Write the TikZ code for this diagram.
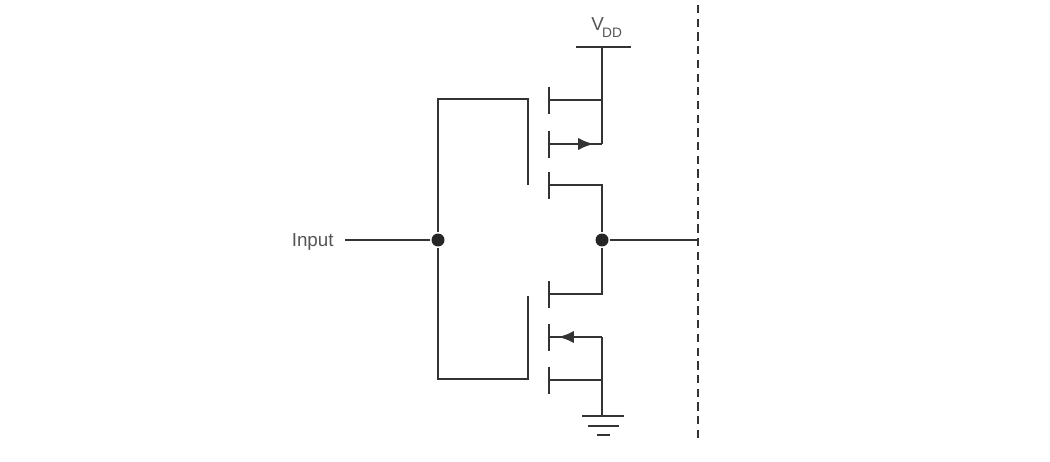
\documentclass[tikz,border=0pt]{standalone}
\usepackage{fontspec}
\setmainfont{Liberation Sans}
\usetikzlibrary{arrows.meta,positioning}
\definecolor{wirecol}{HTML}{333333}
\definecolor{textcol}{HTML}{555555}

\begin{document}
\begin{tikzpicture}[x=0.02cm,y=-0.02cm,>={Latex[length=9pt,width=7pt]},line width=1.6pt,
	                    wire/.style={draw=wirecol,line join=miter},
	                    thin wire/.style={draw=wirecol,line width=1.3pt},
	                    dot/.style={circle,fill=black!85,inner sep=0pt,minimum size=0.26cm},
	                    label text/.style={text=textcol,font=\fontsize{10.7pt}{12pt}\selectfont,inner sep=0pt}]
		  \useasboundingbox (0,0) rectangle (1050,462);

		  % junctions and rails
		  \node[dot] (in)  at (438,240) {};
		  \node[dot] (out) at (602,240) {};
		  \coordinate (vddL) at (576,47);
		  \coordinate (vddM) at (602,47);
		  \coordinate (vddR) at (631,47);
		  \coordinate (gndT) at (602,416);
		  \node[label text,anchor=east] (input) at (335,242) {Input};
		  \coordinate (inputEnd) at (345,240);
		  \node[label text,anchor=west] (vdd) at (590,28) {V\kern-1pt\raisebox{-0.7ex}{\fontsize{7.8pt}{9pt}\selectfont DD}};

		  % plates, top to bottom
		  \foreach \name/\ypos in {pa/100,pb/144,pc/185,nc/294,nb/337,na/380}{
		    \coordinate (\name T) at (549,\ypos-13);
		    \coordinate (\name B) at (549,\ypos+14);
		    \coordinate (\name) at (549,\ypos);
		    \coordinate (\name R) at (602,\ypos);
		    \draw[wire] (\name T) -- (\name B);
		  }

		  % gate wires
		  \coordinate (gtA) at (438,99);
		  \coordinate (gtB) at (528,99);
		  \coordinate (gtC) at (528,185);
		  \coordinate (gbA) at (438,379);
		  \coordinate (gbB) at (528,379);
		  \coordinate (gbC) at (528,296);
		  \draw[wire] (in) -- (gtA) -- (gtB) -- (gtC);
		  \draw[wire] (in) -- (gbA) -- (gbB) -- (gbC);
		  \draw[wire] (inputEnd) -- (in);

		  % pull-up side
		  \draw[wire] (vddL) -- (vddR);
		  \draw[wire] (vddM) -- (pbR);
		  \draw[wire] (pa) -- (paR);
		  \draw[wire] (pb) -- (pbR);
		  \draw[wire] (pc) -- (pcR) -- (out);
		  \coordinate (pbTip) at (594,144);
		  \draw[wire,->] (pb) -- (pbTip);

		  % pull-down side
		  \draw[wire] (out) -- (ncR) -- (nc);
		  \draw[wire] (nbR) -- (nb);
		  \draw[wire] (na) -- (naR);
		  \draw[wire] (nbR) -- (gndT);
		  \coordinate (nbTip) at (558,337);
		  \draw[wire,->] (nbR) -- (nbTip);

		  % ground
		  \coordinate (gaL) at (582,416);
		  \coordinate (gaR) at (624,416);
		  \coordinate (gbL) at (588,426);
		  \coordinate (gbR) at (619,426);
		  \coordinate (gcL) at (597,435);
		  \coordinate (gcR) at (610,435);
		  \draw[wire] (gaL) -- (gaR);
		  \draw[wire] (gbL) -- (gbR);
		  \draw[wire] (gcL) -- (gcR);

		  % output and dashed edge
		  \coordinate (edgeT) at (698,5);
		  \coordinate (edgeM) at (698,240);
		  \coordinate (edgeB) at (698,442);
		  \draw[wire] (out) -- (edgeM);
		  \draw[thin wire,dash pattern=on 4.7pt off 3.1pt] (edgeT) -- (edgeB);
		\end{tikzpicture}
\end{document}
